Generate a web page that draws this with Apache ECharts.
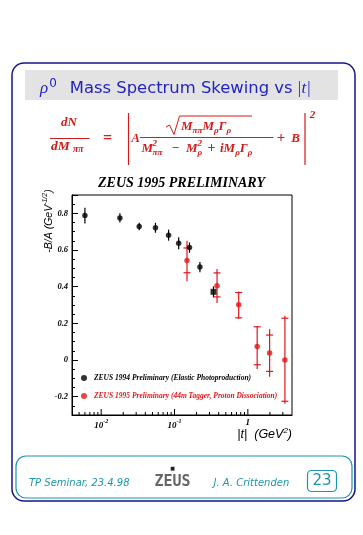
<!DOCTYPE html>
<html><head><meta charset="utf-8">
<script src="https://cdn.jsdelivr.net/npm/echarts@6/dist/echarts.min.js"></script>
<style>html,body{margin:0;padding:0;background:#fff;}#c{width:363px;height:535px;}</style>
</head><body><div id="c"></div>
<script>
// ---------- data ----------
const blackT   = [0.006, 0.018, 0.033, 0.055, 0.083, 0.114, 0.16, 0.222, 0.34];
const blackVal = [0.788, 0.775, 0.728, 0.721, 0.681, 0.637, 0.613, 0.507, 0.372];
const blackErr = [0.043, 0.025, 0.020, 0.027, 0.030, 0.033, 0.028, 0.028, 0.030];

const redT        = [0.148, 0.38, 0.75, 1.34, 1.98, 3.2];
const redVal      = [0.543, 0.405, 0.302, 0.074, 0.038, 0.0];
const redStatLow  = [0.476, 0.344, 0.230, -0.026, -0.062, -0.225];
const redStatHigh = [0.611, 0.475, 0.368, 0.181, 0.136, 0.228];
const redTotLow   = [0.430, 0.311, 0.223, -0.049, -0.091, -0.239];
const redTotHigh  = [0.650, 0.496, 0.374, 0.186, 0.168, 0.241];

const xMajorTicks = [0.01, 0.1, 1];
const xTickBase   = ['10', '10', '1'];
const xTickExp    = ['-2', '-1', ''];
const xMinorTicks = [0.005, 0.006, 0.007, 0.008, 0.009,
                     0.02, 0.03, 0.04, 0.05, 0.06, 0.07, 0.08, 0.09,
                     0.2, 0.3, 0.4, 0.5, 0.6, 0.7, 0.8, 0.9, 2, 3];
const X_MIN = 0.004, X_MAX = 4, Y_MIN = -0.3, Y_MAX = 0.9;

const seriesNames = ['ZEUS 1994 Preliminary (Elastic Photoproduction)',
                     'ZEUS 1995 Preliminary (44m Tagger, Proton Dissociation)'];

// ---------- styles ----------
const RED = '#e3151a';
const FRED = '#d41a1a';
const BLUE = '#2323c4';
const TEAL = '#1b95ad';
const NAVY = '#15158c';
const SERIF = 'Liberation Serif';

function T(x, y, text, size, extra) {
  return {type: 'text', x: x, y: y, z: 10, silent: true,
    style: Object.assign({text: text, fill: FRED, fontSize: size, fontFamily: SERIF,
      fontStyle: 'italic', fontWeight: 'bold', align: 'center', verticalAlign: 'middle'}, extra || {})};
}
function L(x1, y1, x2, y2, color, w) {
  return {type: 'line', z: 10, silent: true, shape: {x1: x1, y1: y1, x2: x2, y2: y2},
    style: {stroke: color, lineWidth: w || 1}};
}
const mathRich = {
  m: {fontSize: 13, fontFamily: SERIF, fontStyle: 'italic', fontWeight: 'bold', fill: FRED, verticalAlign: 'middle'},
  s: {fontSize: 9, fontFamily: SERIF, fontStyle: 'italic', fontWeight: 'bold', fill: FRED, padding: [8, 0, 0, 0], verticalAlign: 'middle'}
};

const graphics = [
  // outer frame
  {type: 'rect', z: 1, silent: true, shape: {x: 12, y: 63, width: 343, height: 438, r: 12},
    style: {fill: 'none', stroke: NAVY, lineWidth: 1.5}},
  // title box
  {type: 'rect', z: 2, silent: true, shape: {x: 25, y: 70, width: 313, height: 30},
    style: {fill: '#e3e3e3'}},
  {type: 'text', z: 3, x: 40, y: 89, silent: true, style: {
    text: '{g|ρ}{sup|0}{t|Mass Spectrum Skewing vs}{g| |t|}',
    align: 'left', verticalAlign: 'middle',
    rich: {
      g: {fontSize: 17, fontFamily: SERIF, fontStyle: 'italic', fill: BLUE, verticalAlign: 'middle'},
      sup: {fontSize: 12, fontFamily: 'DejaVu Sans', fill: BLUE, padding: [0, 0, 11, 1], verticalAlign: 'middle'},
      t: {fontSize: 16.4, fontFamily: 'DejaVu Sans', fill: BLUE, padding: [0, 0, 0, 13], verticalAlign: 'middle'}
    }}},

  // ---- formula ----
  T(69, 123, 'dN', 13),
  L(50, 138.5, 89.5, 138.5, FRED, 1),
  T(51, 147, 'dM', 13.5, {align: 'left'}),
  T(73, 150, 'ππ', 9.5, {align: 'left'}),
  T(107.5, 139, '=', 16, {fontStyle: 'normal'}),
  L(128.5, 113, 128.5, 165, FRED, 1.2),
  T(135.5, 138.5, 'A', 13),
  {type: 'polyline', z: 10, silent: true,
    shape: {points: [[166, 127], [169.5, 125], [174, 134.5], [179.5, 116], [252, 116]]},
    style: {stroke: FRED, lineWidth: 1, fill: 'none'}},
  T(181, 127, '{m|M}{s|ππ}{m|M}{s|ρ}{m|Γ}{s|ρ}', 13, {align: 'left', rich: mathRich}),
  L(140, 137.5, 273.5, 137.5, FRED, 1),
  T(141.5, 148.5, 'M', 13, {align: 'left'}),
  T(152.5, 143.5, '2', 9, {align: 'left'}),
  T(152.5, 153, 'ππ', 9, {align: 'left'}),
  T(175.5, 148.5, '−', 13, {fontStyle: 'normal'}),
  T(186, 148.5, 'M', 13, {align: 'left'}),
  T(197.5, 143.5, '2', 9, {align: 'left'}),
  T(197.5, 153, 'ρ', 9, {align: 'left'}),
  T(211.5, 148.5, '+', 14, {fontStyle: 'normal'}),
  T(220, 148.5, '{m|iM}{s|ρ}{m|Γ}{s|ρ}', 13, {align: 'left', rich: mathRich}),
  T(281, 138.5, '+', 15, {fontStyle: 'normal'}),
  T(295.5, 138.5, 'B', 13),
  L(305, 113, 305, 165, FRED, 1.2),
  T(312.5, 115.5, '2', 11),

  // ---- plot texts ----
  {type: 'text', z: 10, x: 181.5, y: 183.5, silent: true, style: {
    text: 'ZEUS 1995 PRELIMINARY', fill: '#000', fontSize: 14, fontFamily: SERIF,
    fontStyle: 'italic', fontWeight: 'bold', align: 'center', verticalAlign: 'middle'}},
  {type: 'text', z: 10, x: 49, y: 221, rotation: Math.PI / 2, silent: true, style: {
    text: '{a|-B/A (GeV}{p|-1/2}{a|)}', align: 'center', verticalAlign: 'middle',
    rich: {
      a: {fontSize: 10.5, fontFamily: 'Liberation Sans', fontStyle: 'italic', fill: '#000', verticalAlign: 'middle'},
      p: {fontSize: 7, fontFamily: 'Liberation Sans', fontStyle: 'italic', fill: '#000', padding: [0, 0, 8, 0], verticalAlign: 'middle'}
    }}},
  {type: 'text', z: 10, x: 292, y: 435, silent: true, style: {
    text: '{a||t|  (GeV}{p|2}{a|)}', align: 'right', verticalAlign: 'middle',
    rich: {
      a: {fontSize: 12.5, fontFamily: 'Liberation Sans', fontStyle: 'italic', fill: '#000', verticalAlign: 'middle'},
      p: {fontSize: 8, fontFamily: 'Liberation Sans', fontStyle: 'italic', fill: '#000', padding: [0, 0, 9, 0], verticalAlign: 'middle'}
    }}},

  // ---- footer ----
  {type: 'rect', z: 1, silent: true, shape: {x: 16, y: 456, width: 336, height: 42, r: 10},
    style: {fill: 'none', stroke: TEAL, lineWidth: 1.2}},
  {type: 'text', z: 3, x: 29, y: 483, silent: true, style: {
    text: 'TP Seminar, 23.4.98', fill: TEAL, fontSize: 10, fontFamily: 'DejaVu Sans',
    fontStyle: 'italic', align: 'left', verticalAlign: 'middle'}},
  {type: 'text', z: 3, x: 172.5, y: 469, silent: true, style: {
    text: '■', fill: '#222', fontSize: 5, fontFamily: 'DejaVu Sans', align: 'center', verticalAlign: 'middle'}},
  {type: 'text', z: 3, x: 172.5, y: 482, silent: true, style: {
    text: 'ZEUS', fill: '#333', fontSize: 15, fontWeight: 'bold', fontFamily: 'DejaVu Sans Mono',
    align: 'center', verticalAlign: 'middle', opacity: 0.75}},
  {type: 'text', z: 3, x: 213.5, y: 483, silent: true, style: {
    text: 'J. A. Crittenden', fill: TEAL, fontSize: 10, fontFamily: 'DejaVu Sans',
    fontStyle: 'italic', align: 'left', verticalAlign: 'middle'}},
  {type: 'rect', z: 2, silent: true, shape: {x: 307.5, y: 470.5, width: 29, height: 21, r: 4},
    style: {fill: 'none', stroke: TEAL, lineWidth: 1.2}},
  {type: 'text', z: 3, x: 322, y: 481.5, silent: true, style: {
    text: '23', fill: TEAL, fontSize: 15, fontFamily: 'DejaVu Sans',
    align: 'center', verticalAlign: 'middle'}}
];

// ---------- series helpers ----------
function blackBar(params, api) {
  const x = api.value(0);
  const p1 = api.coord([x, api.value(1)]);
  const p2 = api.coord([x, api.value(2)]);
  return {type: 'line', shape: {x1: p1[0], y1: p1[1], x2: p2[0], y2: p2[1]},
    style: {stroke: '#000', lineWidth: 1.2}};
}
function redBar(params, api) {
  const x = api.value(0);
  const t1 = api.coord([x, api.value(1)]);
  const t2 = api.coord([x, api.value(2)]);
  const s1 = api.coord([x, api.value(3)]);
  const s2 = api.coord([x, api.value(4)]);
  const hw = 3.5;
  return {type: 'group', children: [
    {type: 'line', shape: {x1: t1[0], y1: t1[1], x2: t2[0], y2: t2[1]}, style: {stroke: RED, lineWidth: 1.2}},
    {type: 'line', shape: {x1: s1[0] - hw, y1: s1[1], x2: s1[0] + hw, y2: s1[1]}, style: {stroke: RED, lineWidth: 1.2}},
    {type: 'line', shape: {x1: s2[0] - hw, y1: s2[1], x2: s2[0] + hw, y2: s2[1]}, style: {stroke: RED, lineWidth: 1.2}}
  ]};
}
function tickMaker(len) {
  return function (params, api) {
    const p = api.coord([api.value(0), api.value(1)]);
    return {type: 'line', shape: {x1: p[0], y1: p[1], x2: p[0], y2: p[1] - len},
      style: {stroke: '#000', lineWidth: 1}};
  };
}

const blackBarData = blackT.map((t, i) => [t, blackVal[i] - blackErr[i], blackVal[i] + blackErr[i]]);
const redBarData = redT.map((t, i) => [t, redTotLow[i], redTotHigh[i], redStatLow[i], redStatHigh[i]]);
const blackPts = blackT.map((t, i) => (i === blackT.length - 1)
  ? {value: [t, blackVal[i]], symbol: 'rect', symbolSize: 6}
  : [t, blackVal[i]]);
const redPts = redT.map((t, i) => [t, redVal[i]]);

const legendText = {fontFamily: SERIF, fontStyle: 'italic', fontWeight: 'bold', fontSize: 7.5, padding: [0, 0, 0, 2]};

const chart = echarts.init(document.getElementById('c'), null, {renderer: 'canvas'});
chart.setOption({
  animation: false,
  backgroundColor: '#fff',
  grid: {left: 72, top: 195, width: 220, height: 220, show: true, borderColor: '#000', borderWidth: 1,
    backgroundColor: 'transparent', containLabel: false},
  xAxis: {
    type: 'log', logBase: 10, min: X_MIN, max: X_MAX,
    axisLine: {show: true, onZero: false, lineStyle: {color: '#000', width: 1}},
    axisTick: {show: false}, splitLine: {show: false}, minorTick: {show: false},
    axisLabel: {
      margin: 3, color: '#000', showMinLabel: false, showMaxLabel: false,
      formatter: function (v) {
        for (let i = 0; i < xMajorTicks.length; i++) {
          if (Math.abs(Math.log10(v) - Math.log10(xMajorTicks[i])) < 1e-6) {
            return xTickExp[i] ? '{b|' + xTickBase[i] + '}{sup|' + xTickExp[i] + '}' : '{b|' + xTickBase[i] + '}';
          }
        }
        return '';
      },
      rich: {
        b: {fontSize: 9, fontFamily: SERIF, fontStyle: 'italic', fontWeight: 'bold', color: '#000', verticalAlign: 'middle'},
        sup: {fontSize: 6, fontFamily: SERIF, fontStyle: 'italic', fontWeight: 'bold', color: '#000', padding: [0, 0, 9, 0], verticalAlign: 'middle'}
      }
    }
  },
  yAxis: {
    type: 'value', min: Y_MIN, max: Y_MAX, splitNumber: 6,
    axisLine: {show: true, onZero: false, lineStyle: {color: '#000', width: 1}},
    axisTick: {show: true, inside: true, length: 6, lineStyle: {color: '#000'}},
    minorTick: {show: true, splitNumber: 4, length: 3, lineStyle: {color: '#000'}},
    splitLine: {show: false},
    axisLabel: {
      margin: 4, color: '#000', fontSize: 8.5, fontFamily: SERIF, fontStyle: 'italic', fontWeight: 'bold',
      showMinLabel: false, showMaxLabel: false,
      formatter: function (v) {
        const k = Math.round(v / 0.2);
        if (Math.abs(v - k * 0.2) > 1e-6) return '';
        if (k === 0) return '0';
        return (k * 0.2).toFixed(1);
      }
    }
  },
  legend: [
    {orient: 'vertical', left: 81, top: 374, padding: 0, itemWidth: 6, itemHeight: 6, icon: 'circle',
      selectedMode: false, data: [{name: seriesNames[0], textStyle: Object.assign({color: '#000'}, legendText)}]},
    {orient: 'vertical', left: 81, top: 392, padding: 0, itemWidth: 6, itemHeight: 6, icon: 'circle',
      selectedMode: false, data: [{name: seriesNames[1], textStyle: Object.assign({color: RED}, legendText)}]}
  ],
  graphic: graphics,
  series: [
    {type: 'custom', name: 'xMajorTicks', renderItem: tickMaker(6), clip: false, silent: true, z: 3,
      data: xMajorTicks.map(v => [v, Y_MIN]), encode: {x: 0, y: 1}},
    {type: 'custom', name: 'xMinorTicks', renderItem: tickMaker(3), clip: false, silent: true, z: 3,
      data: xMinorTicks.map(v => [v, Y_MIN]), encode: {x: 0, y: 1}},
    {type: 'custom', name: 'blackErr', renderItem: blackBar, clip: false, silent: true, z: 4,
      data: blackBarData, encode: {x: 0, y: [1, 2]}},
    {type: 'custom', name: 'redErr', renderItem: redBar, clip: false, silent: true, z: 4,
      data: redBarData, encode: {x: 0, y: [1, 2, 3, 4]}},
    {type: 'scatter', name: seriesNames[0], data: blackPts, symbol: 'circle', symbolSize: 5.5,
      itemStyle: {color: '#000'}, z: 5, silent: true},
    {type: 'scatter', name: seriesNames[1], data: redPts, symbol: 'circle', symbolSize: 5.5,
      itemStyle: {color: RED}, z: 5, silent: true}
  ]
});
</script>
</body></html>
